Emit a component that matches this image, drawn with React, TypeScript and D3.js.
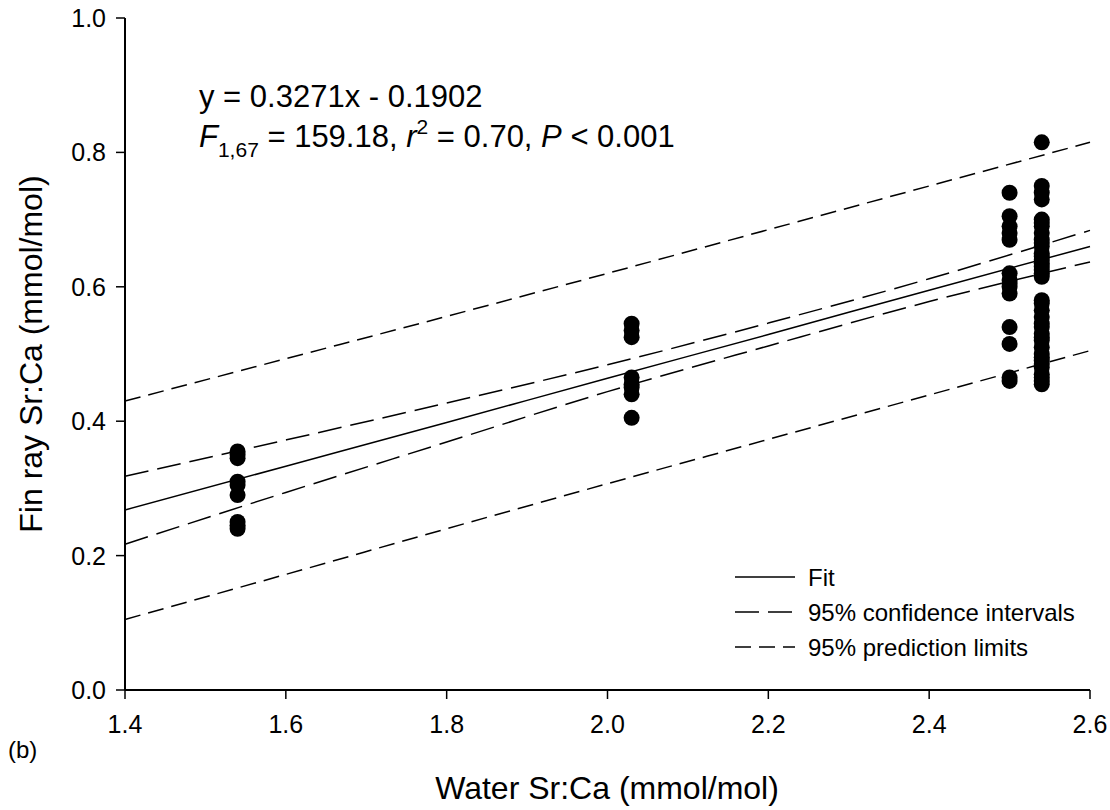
import React from 'react';
import * as d3 from 'd3';

// points
const xGroups = [1.54, 2.03, 2.5, 2.54];
const yGroup1 = [0.355, 0.35, 0.345, 0.31, 0.305, 0.29, 0.25, 0.245, 0.24];
const yGroup2 = [0.545, 0.535, 0.525, 0.465, 0.455, 0.45, 0.44, 0.405];
const yGroup3 = [0.74, 0.705, 0.69, 0.68, 0.67, 0.62, 0.61, 0.605, 0.6, 0.59, 0.54, 0.515, 0.465, 0.46];
const yGroup4 = [
  0.815, 0.75, 0.74, 0.73, 0.70, 0.695, 0.69, 0.68, 0.67, 0.665, 0.66, 0.65, 0.645, 0.64,
  0.635, 0.63, 0.625, 0.62, 0.615, 0.58, 0.575, 0.565, 0.555, 0.545, 0.54, 0.53, 0.525,
  0.52, 0.51, 0.50, 0.495, 0.49, 0.485, 0.48, 0.47, 0.465, 0.46, 0.455,
];
const yGroups = [yGroup1, yGroup2, yGroup3, yGroup4];

// lines read at these x values
const lineX = [1.4, 1.6, 1.8, 2.0, 2.2, 2.4, 2.6];
const fitY = [0.268, 0.333, 0.398, 0.464, 0.529, 0.595, 0.660];
const ciUpper = [0.318, 0.372, 0.427, 0.484, 0.546, 0.612, 0.684];
const ciLower = [0.217, 0.294, 0.369, 0.444, 0.512, 0.578, 0.637];
const plUpper = [0.430, 0.493, 0.556, 0.620, 0.685, 0.750, 0.815];
const plLower = [0.105, 0.172, 0.240, 0.307, 0.373, 0.439, 0.505];

const xTicks = [1.4, 1.6, 1.8, 2.0, 2.2, 2.4, 2.6];
const yTicks = [0.0, 0.2, 0.4, 0.6, 0.8, 1.0];

const legendItems = [
  { label: 'Fit', dash: null },
  { label: '95% confidence intervals', dash: '24,9' },
  { label: '95% prediction limits', dash: '16,8' },
];

const font = 'Arial, "Liberation Sans", sans-serif';

export default function App() {
  const width = 1110;
  const height = 810;

  const x = d3.scaleLinear().domain([1.4, 2.6]).range([125, 1090]);
  const y = d3.scaleLinear().domain([0, 1]).range([690, 18]);

  const line = d3
    .line<number>()
    .x((_, i) => x(lineX[i]))
    .y((d) => y(d))
    .curve(d3.curveMonotoneX);

  const points = xGroups.flatMap((gx, gi) => yGroups[gi].map((v) => [gx, v]));

  return (
    <svg
      width={width}
      height={height}
      style={{ position: 'absolute', left: 0, top: 0, background: '#fff' }}
      fontFamily={font}
    >
      {/* lines */}
      <path d={line(plUpper) || ''} fill="none" stroke="#000" strokeWidth={1.5} strokeDasharray="16,8" />
      <path d={line(plLower) || ''} fill="none" stroke="#000" strokeWidth={1.5} strokeDasharray="16,8" />
      <path d={line(ciUpper) || ''} fill="none" stroke="#000" strokeWidth={1.5} strokeDasharray="24,9" />
      <path d={line(ciLower) || ''} fill="none" stroke="#000" strokeWidth={1.5} strokeDasharray="24,9" />
      <path d={line(fitY) || ''} fill="none" stroke="#000" strokeWidth={1.5} />

      {/* points */}
      {points.map((p, i) => (
        <circle key={i} cx={x(p[0])} cy={y(p[1])} r={8} fill="#000" />
      ))}

      {/* axes */}
      <line x1={125} x2={125} y1={y(1)} y2={y(0)} stroke="#000" strokeWidth={2} />
      <line x1={x(1.4)} x2={x(2.6)} y1={690} y2={690} stroke="#000" strokeWidth={2} />
      {yTicks.map((t) => (
        <g key={'y' + t}>
          <line x1={116} x2={125} y1={y(t)} y2={y(t)} stroke="#000" strokeWidth={1.5} />
          <text x={106} y={y(t) + 9} fontSize={25} textAnchor="end">
            {t.toFixed(1)}
          </text>
        </g>
      ))}
      {xTicks.map((t) => (
        <g key={'x' + t}>
          <line x1={x(t)} x2={x(t)} y1={690} y2={699} stroke="#000" strokeWidth={1.5} />
          <text x={x(t)} y={733} fontSize={25} textAnchor="middle">
            {t.toFixed(1)}
          </text>
        </g>
      ))}

      {/* axis titles */}
      <text x={607} y={799} fontSize={32} textAnchor="middle">
        Water Sr:Ca (mmol/mol)
      </text>
      <text transform="translate(42,354) rotate(-90)" fontSize={32} textAnchor="middle">
        Fin ray Sr:Ca (mmol/mol)
      </text>
      <text x={8} y={758} fontSize={24}>
        (b)
      </text>

      {/* equation */}
      <text x={199} y={107} fontSize={31}>
        y = 0.3271x - 0.1902
      </text>
      <text x={199} y={147} fontSize={31}>
        <tspan fontStyle="italic">F</tspan>
        <tspan fontSize={21} dy={10}>1,67</tspan>
        <tspan dy={-10}> = 159.18, </tspan>
        <tspan fontStyle="italic">r</tspan>
        <tspan fontSize={21} dy={-13}>2</tspan>
        <tspan dy={13}> = 0.70, </tspan>
        <tspan fontStyle="italic">P</tspan>
        <tspan> &lt; 0.001</tspan>
      </text>

      {/* legend */}
      {legendItems.map((item, i) => {
        const ly = 577 + i * 35;
        return (
          <g key={item.label}>
            <line
              x1={735}
              x2={795}
              y1={ly}
              y2={ly}
              stroke="#000"
              strokeWidth={1.5}
              strokeDasharray={item.dash || undefined}
            />
            <text x={808} y={ly + 9} fontSize={24}>
              {item.label}
            </text>
          </g>
        );
      })}
    </svg>
  );
}
